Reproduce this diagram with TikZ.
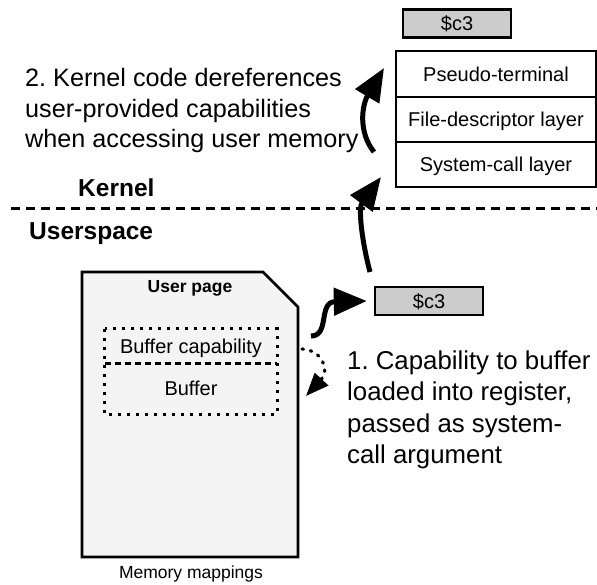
\documentclass[tikz,border=0pt]{standalone}
\usepackage{fontspec}
\setmainfont{Liberation Sans}
\usetikzlibrary{arrows.meta}
\definecolor{capgray}{HTML}{CCCCCC}
\definecolor{pagegray}{HTML}{F4F4F4}
\frenchspacing
\begin{document}
\begin{tikzpicture}[x=1pt,y=-1pt,
  boxtext/.style={font=\fontsize{20}{24}\selectfont, inner sep=0pt, text height=14.5pt, text depth=0pt},
  capbox/.style={boxtext, draw, line width=2.4pt, fill=capgray, minimum width=108pt, minimum height=28pt},
  layerbox/.style={boxtext, draw, line width=2.4pt, fill=white, minimum width=200pt},
  bigtext/.style={font=\fontsize{25.2}{30}\selectfont\frenchspacing, inner sep=0pt, anchor=base west},
  zonetext/.style={font=\fontsize{24.5}{29}\selectfont\bfseries, inner sep=0pt, anchor=base west},
  smalltext/.style={font=\fontsize{17.5}{21}\selectfont, inner sep=0pt, anchor=base},
  solidarrow/.style={line width=5pt, -{Triangle[length=33pt,width=27pt]}},
  dotarrow/.style={line width=3.2pt, line cap=round, dash pattern=on 1.5pt off 7pt, -{Triangle[length=23pt,width=18pt]}},
  dotbox/.style={line width=2.8pt, dash pattern=on 3pt off 6pt},
]
\useasboundingbox (0,0) rectangle (597,585);

% kernel/userspace separator
\draw[line width=3pt, dash pattern=on 9pt off 6pt] (11,209) -- (597,209);
\node[zonetext] (kernel) at (78,197) {Kernel};
\node[zonetext] (userspace) at (29,240) {Userspace};

% kernel layers
\node[layerbox, minimum height=46pt] (pty) at (496,74) {Pseudo-terminal};
\node[layerbox, minimum height=45pt] (fd) at (496,119.5) {File-descriptor layer};
\node[layerbox, minimum height=45pt] (sys) at (496,164.5) {System-call layer};

% register boxes
\node[capbox] (c3top) at (457,23.5) {\$c3};
\node[capbox] (c3mid) at (429,301) {\$c3};

% user page
\path[draw, line width=2.8pt, fill=pagegray, line join=miter]
  (82,272) -- (263,272) -- (298,307) -- (298,557) -- (82,557) -- cycle;
\node[smalltext, font=\fontsize{17.5}{21}\selectfont\bfseries] (userpage) at (190,293) {User page};
\node[smalltext] (mm) at (191,578) {Memory mappings};

% buffer boxes
\node[boxtext, minimum width=172pt, minimum height=34pt] (bufcap) at (191,346) {Buffer capability};
\node[boxtext, minimum width=172pt, minimum height=51pt] (buf) at (191,388.5) {Buffer};
\draw[dotbox] (bufcap.north west) rectangle (buf.south east);
\draw[line width=2.8pt, dash pattern=on 6pt off 4pt] (bufcap.south west) -- (bufcap.south east);

% texts
\node[bigtext] (t2a) at (25,87) {2. Kernel code dereferences};
\node[bigtext] (t2b) at (25,117.5) {user-provided capabilities};
\node[bigtext] (t2c) at (25,148) {when accessing user memory};
\node[bigtext, font=\fontsize{25.8}{31}\selectfont] (t1a) at (347,369) {1. Capability to buffer};
\node[bigtext, font=\fontsize{25.8}{31}\selectfont] (t1b) at (347,400) {loaded into register,};
\node[bigtext, font=\fontsize{25.8}{31}\selectfont] (t1c) at (347,432) {passed as system-};
\node[bigtext, font=\fontsize{25.8}{31}\selectfont] (t1d) at (347,463) {call argument};

% arrows
\coordinate (aStart) at (311,336);
\coordinate (bStart) at (302,349);
\coordinate (bEnd) at (306,396);
\coordinate (cStart) at (370,272);
\coordinate (cEnd) at (381,177);
\coordinate (dStart) at (374,152);
\coordinate (dEnd) at (384,68);

\draw[solidarrow] (aStart) .. controls (330,336) and (318,302) .. ([xshift=-7pt]c3mid.west);
\draw[dotarrow] (bStart) .. controls (322,350) and (330,370) .. (bEnd);
\draw[solidarrow] (cStart) .. controls (362,242) and (358,208) .. (cEnd);
\draw[solidarrow] (dStart) .. controls (358,132) and (362,105) .. (dEnd);
\end{tikzpicture}
\end{document}
